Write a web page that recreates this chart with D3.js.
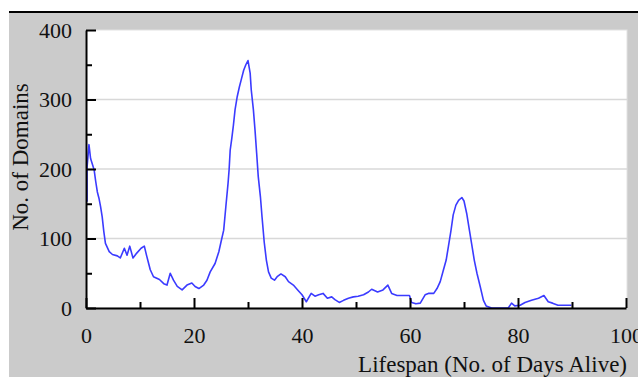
<!DOCTYPE html>
<html>
<head>
<meta charset="utf-8">
<script src="https://cdn.jsdelivr.net/npm/d3@7"></script>
<style>
  html, body { margin: 0; padding: 0; background: #ffffff; }
  svg { display: block; }
  text { font-family: "Liberation Serif", "Times New Roman", serif; fill: #111; }
</style>
</head>
<body>
<svg id="chart" width="638" height="377"></svg>
<script>
// ---- data ----
const days = [0.2,0.2,0.55,0.85,1.5,1.8,2.1,2.4,2.7,3.0,
  3.3,3.6,4.3,4.9,5.8,6.35,7.1,7.6,8.1,8.7,
  9.4,10.2,10.8,11.2,11.6,11.9,12.5,13.6,14.4,15.0,
  15.6,16.2,16.9,17.8,18.7,19.6,20.2,20.9,21.8,22.4,
  23.0,23.9,24.6,25.0,25.5,25.9,26.3,26.5,26.7,27.0,
  27.3,27.6,28.0,28.4,28.8,29.2,29.6,30.0,30.4,30.6,
  31.0,31.3,31.6,31.9,32.3,32.6,33.0,33.4,33.8,34.3,
  34.9,35.4,36.1,36.9,37.5,38.4,39.2,40.0,40.8,41.7,
  42.4,43.1,43.9,44.7,45.5,46.1,46.9,47.7,48.6,49.5,
  50.4,51.4,52.3,52.9,54.0,55.0,55.9,56.6,57.6,59.9,
  60.3,61.1,61.9,62.8,63.4,64.4,65.0,65.6,66.2,66.7,
  67.1,67.6,68.0,68.5,69.0,69.6,70.0,70.5,71.0,71.4,
  71.9,72.4,73.0,73.6,74.1,75.1,78.2,78.8,79.4,80.4,
  81.3,82.5,83.8,84.8,85.6,86.4,87.4,89.9];
const domains = [153,203,235,215,199,182,167,158,146,131,
  110,93,81,77,75,72,86,76,89,72,
  79,86,89,76,64,55,45,41,35,33,
  50,40,31,26,33,36,31,28,33,40,
  52,64,81,95,112,146,179,199,227,244,
  263,285,304,318,330,342,350,356,338,314,
  285,256,223,189,160,131,95,69,52,43,
  40,45,49,45,38,33,26,19,9,21,
  17,19,21,14,16,12,8,11,14,16,
  17,19,23,27,23,26,33,21,18,18,
  8,6,7,19,21,21,28,38,55,69,
  88,112,134,148,155,159,154,136,112,93,
  69,50,31,11,3,0,0,7,3,4,
  8,11,14,18,9,7,4,4];
const xMajorTicks = [0, 20, 40, 60, 80, 100];
const xMinorTicks = [10, 30, 50, 70, 90];
const yMajorTicks = [0, 100, 200, 300, 400];
const yMinorTicks = [50, 150, 250, 350];
const gridValues = [100, 200, 300];
const xTitle = "Lifespan (No. of Days Alive)";
const yTitle = "No. of Domains";

// ---- layout ----
const svg = d3.select("#chart");
const plotL = 86, plotR = 626, plotT = 30, plotB = 308;
const x = d3.scaleLinear().domain([0, 100]).range([plotL, plotR]);
const y = d3.scaleLinear().domain([0, 400]).range([plotB, plotT]);

// outer gray panel + top black rule
svg.append("rect").attr("x", 9).attr("y", 12).attr("width", 629).attr("height", 365).attr("fill", "#cbcbcb");
svg.append("line").attr("x1", 9).attr("x2", 638).attr("y1", 12).attr("y2", 12)
  .attr("stroke", "#000").attr("stroke-width", 2);

// white plot area
svg.append("rect").attr("x", plotL).attr("y", plotT).attr("width", 541).attr("height", plotB - plotT)
  .attr("fill", "#ffffff").attr("stroke", "#e2e2e2").attr("stroke-width", 1);

// gridlines
svg.append("g").selectAll("line").data(gridValues).join("line")
  .attr("x1", plotL).attr("x2", 627)
  .attr("y1", d => y(d)).attr("y2", d => y(d))
  .attr("stroke", "#d8d8d8").attr("stroke-width", 1.5);

// data line
const line = d3.line().x((d, i) => x(days[i])).y(d => y(d));
svg.append("path").datum(domains)
  .attr("d", line)
  .attr("fill", "none")
  .attr("stroke", "#3b3bff")
  .attr("stroke-width", 1.6)
  .attr("stroke-linejoin", "round");

// axes
function styleAxis(g) {
  g.selectAll(".domain").attr("stroke", "#000").attr("stroke-width", 2);
  g.selectAll(".tick line").attr("stroke", "#000").attr("stroke-width", 2);
  g.selectAll("text").attr("font-family", "Liberation Serif, Times New Roman, serif")
    .attr("font-size", 22).attr("fill", "#111");
}
const xAxis = svg.append("g").attr("transform", `translate(0,${plotB})`)
  .call(d3.axisBottom(x).tickValues(xMajorTicks).tickSizeInner(-10).tickSizeOuter(0).tickPadding(19));
styleAxis(xAxis);
const xMinor = svg.append("g").attr("transform", `translate(0,${plotB})`)
  .call(d3.axisBottom(x).tickValues(xMinorTicks).tickSizeInner(-6).tickSizeOuter(0).tickFormat(""));
styleAxis(xMinor);
xMinor.select(".domain").remove();

const yAxis = svg.append("g").attr("transform", `translate(${plotL},0)`)
  .call(d3.axisLeft(y).tickValues(yMajorTicks).tickSizeInner(-10).tickSizeOuter(0).tickPadding(14));
styleAxis(yAxis);
const yMinor = svg.append("g").attr("transform", `translate(${plotL},0)`)
  .call(d3.axisLeft(y).tickValues(yMinorTicks).tickSizeInner(-6).tickSizeOuter(0).tickFormat(""));
styleAxis(yMinor);
yMinor.select(".domain").remove();

// titles
svg.append("text").attr("x", 627).attr("y", 372).attr("text-anchor", "end")
  .attr("font-size", 23).text(xTitle);
svg.append("text").attr("transform", "translate(28,157) rotate(-90)")
  .attr("text-anchor", "middle").attr("font-size", 23).text(yTitle);
</script>
</body>
</html>
